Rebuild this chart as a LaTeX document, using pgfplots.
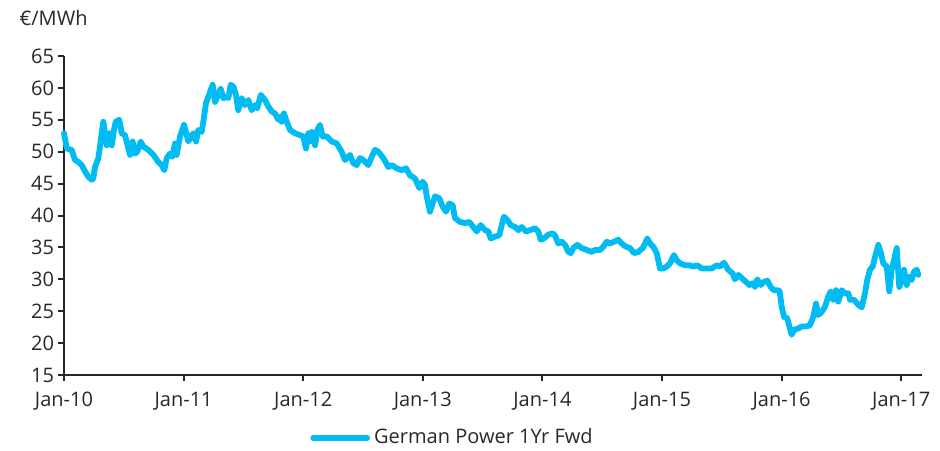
\documentclass[border=0pt]{standalone}
\usepackage{pgfplots}
\pgfplotsset{compat=1.18}
\usepackage{fontspec}
\setmainfont{Open Sans}
\definecolor{pwr}{RGB}{0,188,242}
\definecolor{txt}{RGB}{40,40,40}
\pgfplotstableread{
t v
0.000 52.9
0.023 50.5
0.064 50.3
0.092 48.7
0.120 48.4
0.148 47.9
0.176 46.9
0.203 46.1
0.232 45.6
0.245 45.8
0.259 47.6
0.287 49.0
0.301 50.8
0.315 52.9
0.329 54.7
0.343 52.9
0.357 51.0
0.379 52.9
0.399 51.0
0.418 53.4
0.432 54.7
0.462 55.0
0.482 52.9
0.510 52.6
0.524 51.6
0.552 49.5
0.574 51.6
0.594 49.7
0.613 50.0
0.641 51.6
0.663 50.8
0.705 50.3
0.747 49.5
0.788 48.4
0.817 47.9
0.839 47.1
0.859 49.0
0.886 49.7
0.906 49.2
0.928 51.3
0.942 49.5
0.970 52.4
1.003 54.2
1.020 53.1
1.039 51.6
1.081 52.9
1.104 51.6
1.123 53.4
1.151 53.1
1.165 54.7
1.187 57.6
1.207 58.6
1.227 59.7
1.243 60.5
1.263 57.8
1.282 58.6
1.310 59.9
1.332 58.4
1.360 58.6
1.374 58.4
1.394 60.5
1.416 60.2
1.438 58.9
1.457 56.5
1.486 58.4
1.513 57.3
1.541 58.1
1.569 56.5
1.597 57.3
1.616 56.8
1.645 58.9
1.681 58.1
1.708 57.1
1.737 56.3
1.764 56.0
1.792 55.0
1.806 55.5
1.820 54.7
1.839 56.0
1.862 54.7
1.890 53.4
1.931 52.9
1.973 52.6
2.001 52.4
2.023 50.5
2.043 52.9
2.051 51.6
2.071 53.1
2.099 51.0
2.118 53.4
2.140 54.2
2.163 52.4
2.197 52.4
2.238 51.6
2.280 51.3
2.322 50.0
2.349 48.7
2.391 49.5
2.419 48.2
2.447 47.9
2.475 49.0
2.503 48.7
2.544 47.9
2.573 49.2
2.600 50.3
2.628 50.0
2.670 49.0
2.712 47.6
2.740 47.9
2.782 47.4
2.824 47.1
2.860 47.4
2.893 46.3
2.935 45.8
2.971 44.3
2.999 45.3
3.018 44.8
3.033 43.0
3.060 40.6
3.083 41.9
3.102 43.0
3.138 42.7
3.166 41.4
3.194 40.6
3.222 41.9
3.250 41.6
3.269 39.6
3.311 39.0
3.353 38.8
3.389 39.0
3.422 38.2
3.451 37.5
3.484 38.5
3.520 37.7
3.548 37.5
3.568 36.4
3.604 36.7
3.640 36.9
3.660 38.5
3.679 39.8
3.707 39.3
3.735 38.5
3.771 38.2
3.799 37.7
3.827 38.2
3.863 37.5
3.896 37.7
3.938 38.0
3.966 37.5
3.986 36.2
4.013 36.4
4.049 37.0
4.086 37.2
4.105 36.9
4.133 35.6
4.161 35.9
4.189 35.4
4.217 34.3
4.237 34.1
4.259 34.9
4.292 35.4
4.329 34.9
4.370 34.6
4.412 34.3
4.440 34.6
4.482 34.6
4.509 35.1
4.538 35.9
4.565 35.6
4.599 35.9
4.635 36.2
4.663 35.6
4.699 35.1
4.732 34.9
4.766 34.1
4.802 34.3
4.839 34.9
4.858 35.6
4.877 36.4
4.900 35.6
4.927 35.1
4.956 34.1
4.983 31.7
5.011 31.7
5.039 32.0
5.067 32.5
5.100 33.8
5.123 33.0
5.151 32.5
5.192 32.2
5.228 32.2
5.262 32.0
5.295 32.2
5.332 31.7
5.374 31.7
5.416 31.7
5.457 32.2
5.485 32.0
5.518 32.6
5.554 31.5
5.591 30.9
5.610 30.0
5.638 30.7
5.666 30.2
5.702 29.6
5.730 29.1
5.758 29.4
5.778 28.8
5.797 30.0
5.825 29.1
5.853 29.6
5.880 29.8
5.909 28.8
5.936 28.3
5.964 28.3
5.983 28.2
6.001 25.7
6.020 24.1
6.048 23.9
6.065 22.6
6.084 21.3
6.104 22.1
6.140 22.3
6.168 22.6
6.204 22.6
6.237 22.8
6.265 24.1
6.288 26.2
6.307 24.4
6.335 24.9
6.363 25.7
6.390 27.3
6.411 28.1
6.432 26.8
6.455 28.3
6.474 26.5
6.503 28.3
6.530 27.8
6.558 27.8
6.572 26.8
6.605 26.8
6.641 26.0
6.670 25.6
6.697 27.8
6.716 29.9
6.739 31.5
6.762 32.0
6.781 33.5
6.809 35.4
6.831 34.1
6.850 32.5
6.879 32.0
6.900 28.1
6.920 31.5
6.940 33.0
6.962 34.9
6.984 28.8
7.004 29.9
7.023 31.5
7.046 29.1
7.068 30.4
7.088 29.9
7.107 31.2
7.130 31.5
7.143 30.7
}\power
\begin{document}
\fontsize{10}{12}\selectfont
\begin{tikzpicture}
\path[use as bounding box] (-32pt,-37.5pt) rectangle (438pt,187.5pt);
\begin{axis}[
  scale only axis,
  width=429pt, height=159.5pt,
  xmin=0, xmax=7.174,
  ymin=15, ymax=65,
  axis x line=bottom, axis y line=left,
  axis line style={-, line width=1pt, black!85},
  xtick={0,1,2,3,4,5,6,7},
  xticklabels={Jan-10,Jan-11,Jan-12,Jan-13,Jan-14,Jan-15,Jan-16,Jan-17},
  ytick={15,20,...,65},
  tick align=outside,
  major tick length=3pt,
  tick style={line width=1pt, black!85},
  tick label style={font=\fontsize{10}{12}\selectfont, text=txt},
  yticklabel style={xshift=1.5pt},
  /pgf/number format/assume math mode=true,
  xticklabel style={yshift=-2pt},
  clip=false,
  legend style={at={(0.454,-0.197)}, anchor=center, draw=none, fill=none,
    font=\fontsize{10}{12}\selectfont, text=txt, inner sep=0pt},
  legend cell align=left,
  legend image code/.code={\draw[#1, line cap=round] (0pt,0pt) -- (27pt,0pt);},
]
\addplot[pwr, line width=2.9pt, line join=round, line cap=round] table[x=t, y=v] {\power};
\addlegendentry{German Power 1Yr Fwd}
\node[anchor=base west, text=txt, font=\fontsize{10}{12}\selectfont] at (rel axis cs:-0.060,1.095) {€/MWh};
\end{axis}
\end{tikzpicture}
\end{document}
